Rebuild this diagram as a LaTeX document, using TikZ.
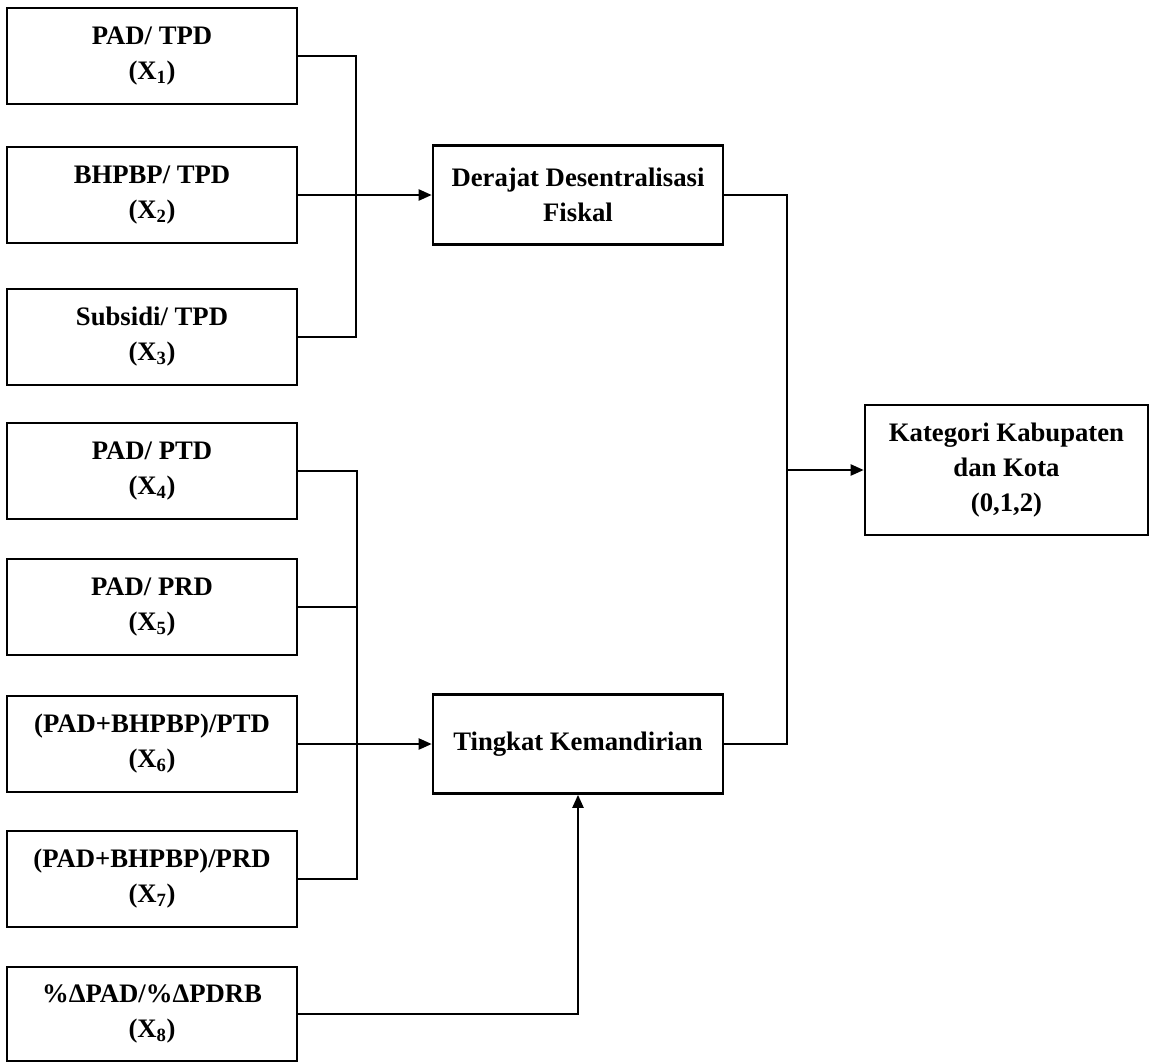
\documentclass[tikz,border=0pt]{standalone}
\usepackage{fontspec}
\setmainfont{Liberation Serif}
\usetikzlibrary{arrows.meta}
\begin{document}
\begin{tikzpicture}[x=1pt,y=-1pt,
  box/.style={draw, line width=2.6pt, align=center, inner sep=0pt,
    font=\bfseries\fontsize{26.7}{35}\selectfont},
  lbox/.style={box, minimum width=290pt, minimum height=96pt},
  mbox/.style={box, minimum width=290pt, minimum height=99pt},
  conn/.style={line width=2.2pt},
  arr/.style={conn, -{Triangle[length=13pt,width=11pt]}}]
\useasboundingbox (0,0) rectangle (1153,1063);
\fill[white] (0,0) rectangle (1153,1063);
% left boxes
\node[lbox] (b1) at (152,56)   {PAD/ TPD\\(X\textsubscript{1})};
\node[lbox] (b2) at (152,195)  {BHPBP/ TPD\\(X\textsubscript{2})};
\node[lbox] (b3) at (152,337)  {Subsidi/ TPD\\(X\textsubscript{3})};
\node[lbox] (b4) at (152,471)  {PAD/ PTD\\(X\textsubscript{4})};
\node[lbox] (b5) at (152,607)  {PAD/ PRD\\(X\textsubscript{5})};
\node[lbox] (b6) at (152,744)  {(PAD+BHPBP)/PTD\\(X\textsubscript{6})};
\node[lbox] (b7) at (152,879)  {(PAD+BHPBP)/PRD\\(X\textsubscript{7})};
\node[lbox, minimum height=94pt] (b8) at (152,1014) {\%ΔPAD/\%ΔPDRB\\(X\textsubscript{8})};
% middle boxes
\node[mbox] (der) at (578,195) {Derajat Desentralisasi\\Fiskal};
\node[mbox] (tin) at (578,744) {Tingkat Kemandirian};
% right box
\node[box, minimum width=283pt, minimum height=130pt] (kat) at (1006.5,470)
  {Kategori Kabupaten\\dan Kota\\(0,1,2)};
% junction columns
\coordinate (j1) at (356,0);
\coordinate (j2) at (357,0);
\coordinate (j3) at (787,0);
% top group
\draw[conn] (b1.east) -- (b1.east -| j1) -- (b3.east -| j1) -- (b3.east);
\draw[arr] (b2.east) -- (der.west);
% bottom group
\draw[conn] (b4.east) -- (b4.east -| j2) -- (b7.east -| j2) -- (b7.east);
\draw[conn] (b5.east) -- (b5.east -| j2);
\draw[arr] (b6.east) -- (tin.west);
% X8 to Tingkat
\draw[arr] (b8.east) -| (tin.south);
% right merge
\draw[conn] (der.east) -- (der.east -| j3) -- (tin.east -| j3) -- (tin.east);
\draw[arr] (kat.west -| j3) -- (kat.west);
\end{tikzpicture}
\end{document}
